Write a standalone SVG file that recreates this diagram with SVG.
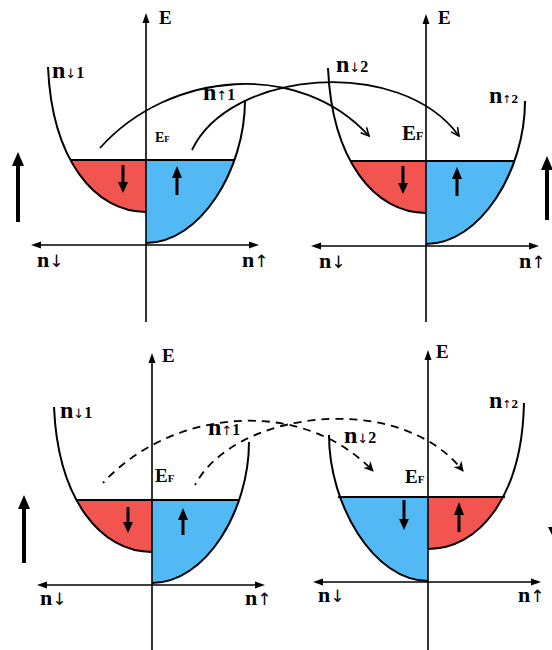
<svg xmlns="http://www.w3.org/2000/svg" width="552" height="650" viewBox="0 0 552 650">
<style>
.ln{fill:none;stroke:#000;stroke-width:2}
.ax{fill:none;stroke:#000;stroke-width:1.6}
.sp{fill:none;stroke:#000;stroke-width:3}
.big{fill:none;stroke:#000;stroke-width:4}
.hd{fill:#000}
.red{fill:#f25450}
.blue{fill:#52b9f4}
.t{font-family:"Liberation Serif","DejaVu Serif",serif;font-weight:bold;fill:#000}
.ar{font-family:"DejaVu Sans",sans-serif;font-weight:normal}
.arc{fill:none;stroke:#000;stroke-width:1.8}
.dash{fill:none;stroke:#000;stroke-width:1.8;stroke-dasharray:8 6;stroke-dashoffset:6}
</style>
<defs>
<clipPath id="below" clipPathUnits="userSpaceOnUse"><rect x="-130" y="-85" width="260" height="100"/></clipPath>
<marker id="vopen" viewBox="0 0 10 10" refX="9" refY="5" markerWidth="10" markerHeight="10" markerUnits="userSpaceOnUse" orient="auto"><path d="M1,1 L9,5 L1,9" fill="none" stroke="#000" stroke-width="1.6"/></marker>
<marker id="vfill" viewBox="0 0 10 10" refX="9" refY="5" markerWidth="10" markerHeight="10" markerUnits="userSpaceOnUse" orient="auto"><path d="M0,0 L10,5 L0,10 L3,5 Z" fill="#000"/></marker>
</defs>

<g id="panel-top-left">
<g transform="translate(146,245)">
<path class="red" clip-path="url(#below)" d="M-98,-178 C-94,-85 -51,-33 0,-33 L0,-178 Z"/>
<path class="blue" clip-path="url(#below)" d="M0,-2 C54,-2 99,-75 99,-145 L0,-145 Z"/>
<path class="ln" d="M-98,-178 C-94,-85 -51,-33 0,-33"/>
<path class="ln" d="M0,-2 C54,-2 99,-75 99,-145"/>
<line class="ln" x1="-76" y1="-85" x2="89" y2="-85"/>
<line class="ax" x1="0" y1="-224" x2="0" y2="77"/>
<polygon class="hd" points="0,-232 -3.5,-222 3.5,-222"/>
<line class="ax" x1="-107" y1="0" x2="106" y2="0"/>
<polygon class="hd" points="-115,0 -105,-3.5 -105,3.5"/>
<polygon class="hd" points="113,0 103,-3.5 103,3.5"/>
<line class="sp" x1="-23" y1="-80" x2="-23" y2="-62"/>
<polygon class="hd" points="-28,-63 -18,-63 -23,-52"/>
<line class="sp" x1="31" y1="-50" x2="31" y2="-68"/>
<polygon class="hd" points="26,-67 36,-67 31,-79"/>
</g>
<line class="big" x1="18" y1="222" x2="18" y2="164"/>
<polygon class="hd" points="12,166 24,166 18,152"/>
<text class="t" x="159" y="24" font-size="19">E</text>
<text class="t" x="52" y="78" font-size="24">n<tspan class="ar" font-size="13">↓</tspan><tspan font-size="16">1</tspan></text>
<text class="t" x="203" y="100" font-size="24">n<tspan class="ar" font-size="13">↑</tspan><tspan font-size="16">1</tspan></text>
<text class="t" x="155" y="142" font-size="14">E<tspan font-size="9">F</tspan></text>
<text class="t" x="37" y="267" font-size="22">n<tspan class="ar" font-size="17">↓</tspan></text>
<text class="t" x="242" y="267" font-size="22">n<tspan class="ar" font-size="17">↑</tspan></text>
</g>

<g id="panel-top-right">
<g transform="translate(426,246)">
<path class="red" clip-path="url(#below)" d="M-98,-178 C-94,-85 -51,-33 0,-33 L0,-178 Z"/>
<path class="blue" clip-path="url(#below)" d="M0,-2 C54,-2 99,-75 99,-145 L0,-145 Z"/>
<path class="ln" d="M-98,-178 C-94,-85 -51,-33 0,-33"/>
<path class="ln" d="M0,-2 C54,-2 99,-75 99,-145"/>
<line class="ln" x1="-76" y1="-85" x2="89" y2="-85"/>
<line class="ax" x1="0" y1="-224" x2="0" y2="76"/>
<polygon class="hd" points="0,-232 -3.5,-222 3.5,-222"/>
<line class="ax" x1="-107" y1="0" x2="106" y2="0"/>
<polygon class="hd" points="-115,0 -105,-3.5 -105,3.5"/>
<polygon class="hd" points="113,0 103,-3.5 103,3.5"/>
<line class="sp" x1="-23" y1="-80" x2="-23" y2="-62"/>
<polygon class="hd" points="-28,-63 -18,-63 -23,-52"/>
<line class="sp" x1="31" y1="-50" x2="31" y2="-68"/>
<polygon class="hd" points="26,-67 36,-67 31,-79"/>
</g>
<line class="big" x1="547" y1="220" x2="547" y2="168"/>
<polygon class="hd" points="541,170 553,170 547,156"/>
<text class="t" x="438" y="24" font-size="19">E</text>
<text class="t" x="336" y="72" font-size="24">n<tspan class="ar" font-size="13">↓</tspan><tspan font-size="16">2</tspan></text>
<text class="t" x="489" y="103" font-size="24">n<tspan class="ar" font-size="11">↑</tspan><tspan font-size="13">2</tspan></text>
<text class="t" x="402" y="140" font-size="21">E<tspan font-size="12">F</tspan></text>
<text class="t" x="319" y="268" font-size="22">n<tspan class="ar" font-size="17">↓</tspan></text>
<text class="t" x="519" y="268" font-size="22">n<tspan class="ar" font-size="17">↑</tspan></text>
</g>

<g id="panel-bottom-left">
<g transform="translate(152,585)">
<path class="red" clip-path="url(#below)" d="M-98,-178 C-94,-85 -51,-33 0,-33 L0,-178 Z"/>
<path class="blue" clip-path="url(#below)" d="M0,-2 C54,-2 97,-75 97,-143 L0,-143 Z"/>
<path class="ln" d="M-98,-178 C-94,-85 -51,-33 0,-33"/>
<path class="ln" d="M0,-2 C54,-2 97,-75 97,-143"/>
<line class="ln" x1="-76" y1="-85" x2="88" y2="-85"/>
<line class="ax" x1="0" y1="-224" x2="0" y2="70"/>
<polygon class="hd" points="0,-232 -3.5,-222 3.5,-222"/>
<line class="ax" x1="-107" y1="0" x2="106" y2="0"/>
<polygon class="hd" points="-115,0 -105,-3.5 -105,3.5"/>
<polygon class="hd" points="113,0 103,-3.5 103,3.5"/>
<line class="sp" x1="-24" y1="-78" x2="-24" y2="-62"/>
<polygon class="hd" points="-29,-63 -19,-63 -24,-52"/>
<line class="sp" x1="31" y1="-50" x2="31" y2="-66"/>
<polygon class="hd" points="26,-65 36,-65 31,-77"/>
</g>
<line class="big" x1="24" y1="563" x2="24" y2="507"/>
<polygon class="hd" points="18,509 30,509 24,495"/>
<text class="t" x="162" y="362" font-size="19">E</text>
<text class="t" x="60" y="418" font-size="24">n<tspan class="ar" font-size="13">↓</tspan><tspan font-size="16">1</tspan></text>
<text class="t" x="208" y="435" font-size="24">n<tspan class="ar" font-size="13">↑</tspan><tspan font-size="16">1</tspan></text>
<text class="t" x="155" y="482" font-size="19">E<tspan font-size="11">F</tspan></text>
<text class="t" x="40" y="605" font-size="22">n<tspan class="ar" font-size="17">↓</tspan></text>
<text class="t" x="245" y="605" font-size="22">n<tspan class="ar" font-size="17">↑</tspan></text>
</g>

<g id="panel-bottom-right">
<g transform="translate(428,582) scale(-1,1)">
<path class="red" clip-path="url(#below)" d="M-96,-179 C-94,-85 -51,-33 0,-33 L0,-179 Z"/>
<path class="blue" clip-path="url(#below)" d="M0,-1 C54,-1 99,-77 99,-147 L0,-147 Z"/>
<path class="ln" d="M-96,-179 C-94,-85 -51,-33 0,-33"/>
<path class="ln" d="M0,-1 C54,-1 99,-77 99,-147"/>
<line class="ln" x1="-77" y1="-85" x2="90" y2="-85"/>
<line class="ax" x1="0" y1="-224" x2="0" y2="70"/>
<polygon class="hd" points="0,-232 -3.5,-222 3.5,-222"/>
<line class="ax" x1="-106" y1="0" x2="107" y2="0"/>
<polygon class="hd" points="-113,0 -103,-3.5 -103,3.5"/>
<polygon class="hd" points="115,0 105,-3.5 105,3.5"/>
</g>
<g transform="translate(428,582)">
<line class="sp" x1="-24" y1="-82" x2="-24" y2="-62"/>
<polygon class="hd" points="-29,-63 -19,-63 -24,-52"/>
<line class="sp" x1="31" y1="-50" x2="31" y2="-68"/>
<polygon class="hd" points="26,-67 36,-67 31,-80"/>
</g>
<line class="big" x1="554" y1="470" x2="554" y2="528"/>
<polygon class="hd" points="548,527 560,527 554,539"/>
<text class="t" x="436" y="358" font-size="19">E</text>
<text class="t" x="489" y="408" font-size="24">n<tspan class="ar" font-size="11">↑</tspan><tspan font-size="13">2</tspan></text>
<text class="t" x="344" y="443" font-size="24">n<tspan class="ar" font-size="13">↓</tspan><tspan font-size="16">2</tspan></text>
<text class="t" x="405" y="483" font-size="19">E<tspan font-size="11">F</tspan></text>
<text class="t" x="318" y="602" font-size="22">n<tspan class="ar" font-size="17">↓</tspan></text>
<text class="t" x="518" y="602" font-size="22">n<tspan class="ar" font-size="17">↑</tspan></text>
</g>

<g id="connectors">
<path class="arc" marker-end="url(#vopen)" d="M100,148 C170,70 300,60 369,136"/>
<path class="arc" marker-end="url(#vopen)" d="M192,150 C230,70 400,55 459,136"/>
<path class="dash" marker-end="url(#vfill)" d="M103,483 C170,410 300,395 373,471"/>
<path class="dash" marker-end="url(#vfill)" d="M195,485 C235,410 400,390 463,471"/>
</g>
</svg>
